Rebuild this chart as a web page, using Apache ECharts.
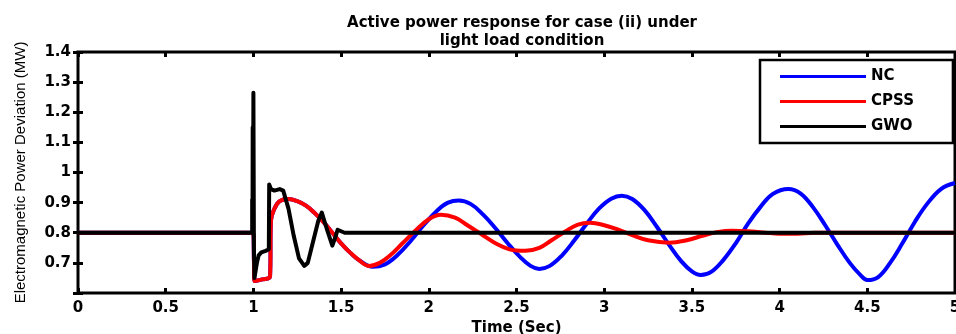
<!DOCTYPE html>
<html>
<head>
<meta charset="utf-8">
<script src="https://cdn.jsdelivr.net/npm/echarts@6/dist/echarts.min.js"></script>
<style>
  html, body { margin: 0; padding: 0; background: #fff; }
  #chart { width: 956px; height: 334px; }
</style>
</head>
<body>
<div id="chart"></div>
<script>
// values, [time (s), power (MW)]
var ncData = [
  [0, 0.8], [0.999, 0.8], [1.003, 0.71], [1.006, 0.64], [1.05, 0.645], [1.095, 0.655],
  [1.1, 0.84], [1.12, 0.88], [1.15, 0.905], [1.2, 0.912], [1.25, 0.905], [1.3, 0.89],
  [1.35, 0.865], [1.4, 0.835], [1.45, 0.8], [1.5, 0.765], [1.55, 0.735], [1.6, 0.71],
  [1.68, 0.687], [1.75, 0.695], [1.82, 0.725], [1.9, 0.775], [1.97, 0.825], [2.05, 0.875],
  [2.11, 0.9], [2.17, 0.907], [2.24, 0.895], [2.31, 0.86], [2.38, 0.815], [2.45, 0.765],
  [2.52, 0.72], [2.58, 0.69], [2.63, 0.68], [2.69, 0.69], [2.76, 0.725], [2.83, 0.775],
  [2.9, 0.83], [2.97, 0.88], [3.04, 0.913], [3.1, 0.923], [3.16, 0.912], [3.23, 0.875],
  [3.3, 0.82], [3.37, 0.76], [3.44, 0.705], [3.5, 0.672], [3.55, 0.66], [3.61, 0.67],
  [3.68, 0.71], [3.75, 0.765], [3.82, 0.83], [3.89, 0.885], [3.96, 0.928], [4.05, 0.945],
  [4.12, 0.93], [4.19, 0.885], [4.26, 0.825], [4.33, 0.76], [4.4, 0.7], [4.46, 0.66],
  [4.5, 0.643], [4.56, 0.652], [4.63, 0.7], [4.7, 0.765], [4.77, 0.835], [4.84, 0.895],
  [4.92, 0.945], [5.0, 0.965]
];

var cpssData = [
  [0, 0.8], [0.999, 0.8], [1.003, 0.71], [1.006, 0.64], [1.05, 0.645], [1.095, 0.655],
  [1.1, 0.84], [1.12, 0.88], [1.15, 0.905], [1.2, 0.912], [1.25, 0.905], [1.3, 0.89],
  [1.35, 0.865], [1.4, 0.835], [1.45, 0.8], [1.5, 0.765], [1.55, 0.735], [1.6, 0.71],
  [1.66, 0.69], [1.72, 0.7], [1.78, 0.725], [1.85, 0.765], [1.92, 0.805], [2.0, 0.845],
  [2.07, 0.86], [2.15, 0.85], [2.22, 0.825], [2.3, 0.795], [2.38, 0.765], [2.46, 0.745],
  [2.55, 0.74], [2.63, 0.75], [2.7, 0.775], [2.78, 0.805], [2.85, 0.827], [2.92, 0.833],
  [3.0, 0.825], [3.08, 0.81], [3.16, 0.792], [3.25, 0.775], [3.37, 0.767], [3.47, 0.775],
  [3.56, 0.79], [3.65, 0.803], [3.73, 0.807], [3.82, 0.805], [3.92, 0.8], [4.0, 0.797],
  [4.1, 0.797], [4.2, 0.8], [5.0, 0.8]
];

var gwoData = [
  [0, 0.8], [0.993, 0.8], [0.993, 0.91], [0.995, 0.8], [0.996, 1.15], [0.998, 0.8],
  [1.0, 1.265], [1.003, 0.75], [1.006, 0.65], [1.02, 0.7], [1.03, 0.725], [1.045, 0.735],
  [1.07, 0.74], [1.088, 0.745], [1.09, 0.96], [1.1, 0.945], [1.12, 0.94], [1.15, 0.945],
  [1.17, 0.94], [1.2, 0.88], [1.23, 0.79], [1.26, 0.715], [1.29, 0.69], [1.31, 0.7],
  [1.34, 0.77], [1.37, 0.84], [1.39, 0.867], [1.42, 0.81], [1.45, 0.757], [1.47, 0.79],
  [1.48, 0.81], [1.5, 0.805], [1.52, 0.8], [5, 0.8]
];

var seriesNames = ['NC', 'CPSS', 'GWO'];
var seriesColors = ['#0000ff', '#ff0000', '#000000'];

var boldFont = {
  color: '#000',
  fontFamily: 'DejaVu Sans, sans-serif',
  fontWeight: 'bold',
  fontSize: 15
};

var chart = echarts.init(document.getElementById('chart'), null, { renderer: 'canvas' });

chart.setOption({
  animation: false,
  backgroundColor: '#fff',
  title: {
    text: 'Active power response for case (ii) under\nlight load condition',
    left: 517,
    top: 9,
    textAlign: 'center',
    textStyle: Object.assign({ lineHeight: 18 }, boldFont)
  },
  legend: {
    orient: 'vertical',
    left: 760,
    top: 60,
    data: seriesNames,
    icon: 'rect',
    itemWidth: 86,
    itemHeight: 3,
    itemGap: 8,
    itemTextGap: 9,
    padding: [8, 39, 8, 20],
    backgroundColor: '#fff',
    borderColor: '#000',
    borderWidth: 2.5,
    textStyle: Object.assign({ lineHeight: 17 }, boldFont)
  },
  grid: {
    left: 78,
    right: 1,
    top: 52,
    bottom: 41,
    outerBoundsMode: 'none',
    show: true,
    borderColor: '#000',
    borderWidth: 3,
    backgroundColor: '#fff'
  },
  xAxis: [{
    type: 'value',
    min: 0,
    max: 5,
    interval: 0.5,
    name: 'Time (Sec)',
    nameLocation: 'middle',
    nameGap: 25,
    nameTextStyle: boldFont,
    axisLine: { show: false },
    axisTick: { inside: true, length: 5, lineStyle: { color: '#000', width: 3 } },
    axisLabel: Object.assign({ margin: 8, hideOverlap: false }, boldFont),
    splitLine: { show: false }
  }, {
    type: 'value',
    position: 'top',
    min: 0,
    max: 5,
    interval: 0.5,
    axisLine: { show: false },
    axisTick: { inside: true, length: 5, lineStyle: { color: '#000', width: 3 } },
    axisLabel: { show: false },
    splitLine: { show: false }
  }],
  yAxis: [{
    type: 'value',
    min: 0.6,
    max: 1.4,
    interval: 0.1,
    name: 'Electromagnetic Power Deviation (MW)',
    nameLocation: 'middle',
    nameGap: 50,
    nameTextStyle: {
      color: '#000',
      fontFamily: 'Liberation Sans, Arial, sans-serif',
      fontSize: 15
    },
    axisLine: { show: false },
    axisTick: { inside: true, length: 5, lineStyle: { color: '#000', width: 3 } },
    axisLabel: Object.assign({
      margin: 7,
      formatter: function (v) {
        if (Math.abs(v - 0.6) < 1e-6) return '';
        return String(Math.round(v * 10) / 10);
      }
    }, boldFont),
    splitLine: { show: false }
  }, {
    type: 'value',
    position: 'right',
    min: 0.6,
    max: 1.4,
    interval: 0.1,
    axisLine: { show: false },
    axisTick: { inside: true, length: 5, lineStyle: { color: '#000', width: 3 } },
    axisLabel: { show: false },
    splitLine: { show: false }
  }],
  series: [
    {
      name: 'NC',
      type: 'line',
      data: ncData,
      showSymbol: false,
      smooth: 0.4,
      lineStyle: { color: seriesColors[0], width: 4 },
      itemStyle: { color: seriesColors[0] }
    },
    {
      name: 'CPSS',
      type: 'line',
      data: cpssData,
      showSymbol: false,
      smooth: 0.4,
      lineStyle: { color: seriesColors[1], width: 4 },
      itemStyle: { color: seriesColors[1] }
    },
    {
      name: 'GWO',
      type: 'line',
      data: gwoData,
      showSymbol: false,
      lineStyle: { color: seriesColors[2], width: 4, join: 'round' },
      itemStyle: { color: seriesColors[2] }
    }
  ]
});
</script>
</body>
</html>
